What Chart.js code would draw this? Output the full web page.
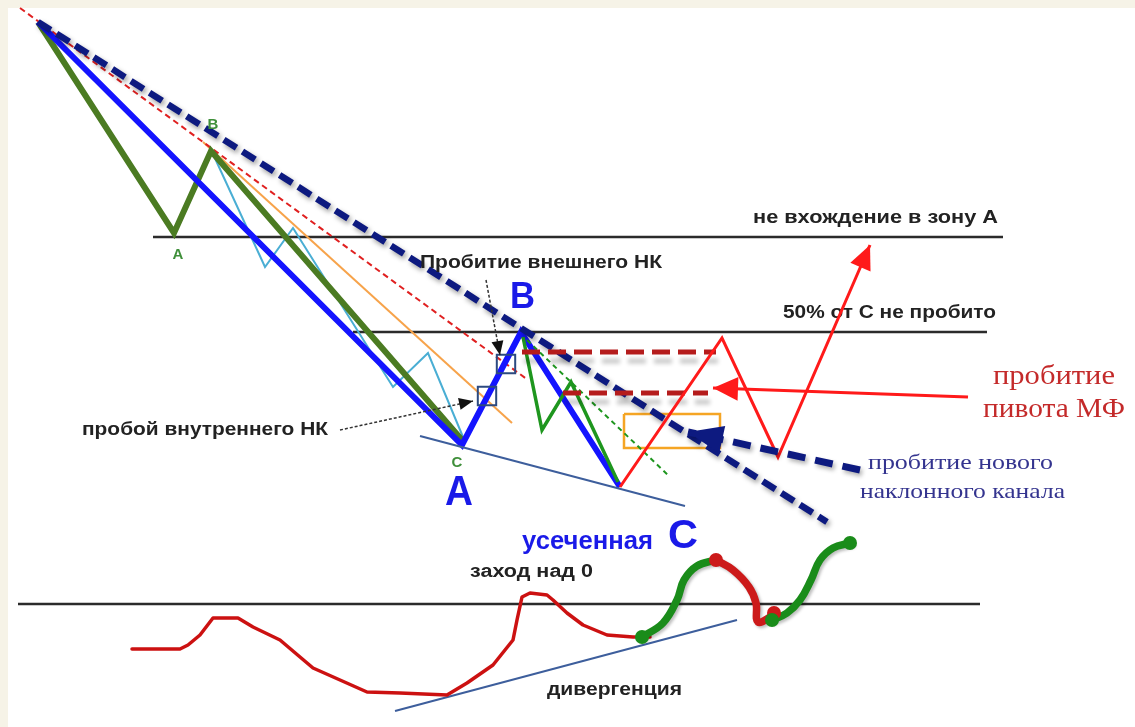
<!DOCTYPE html>
<html><head><meta charset="utf-8">
<script src="https://cdn.jsdelivr.net/npm/chart.js@4.4.0/dist/chart.umd.min.js"></script>
<style>html,body{margin:0;padding:0;background:#fff;overflow:hidden}canvas{display:block}</style>
</head><body><canvas id="c" width="1135" height="727"></canvas>
<script>
// ---------- data (x = time units, y = price units, y axis reversed) ----------
const levelZoneA   = [[153,237],[1003,237]];
const levelHalfC   = [[353,332],[987,332]];
const levelZero    = [[18,604],[980,604]];
const greenWave    = [[38,22],[174,233],[211,151],[462,440]];
const blueWave     = [[38,22],[462,445],[521,332],[620,487]];
const lightBlueWave= [[213,154],[265,267],[293,228],[393,387],[428,353],[463,437]];
const orangeLine   = [[203,142],[512,423]];
const redDashTrend = [[20,8],[528,380]];
const outerChannel = [[38,22],[827,522]];
const greenSubWave = [[523,337],[542,430],[571,382],[618,482]];
const greenDashed  = [[527,340],[670,477]];
const lowerChannel = [[420,436],[685,506]];
const pivotUpper   = [[522,352],[716,352]];
const pivotLower   = [[563,393],[708,393]];
const redProjection= [[620,487],[722,338],[778,457],[870,245]];
const pivotArrow   = [[968,397],[713,388]];
const newChanArrow = [[860,470],[688,432]];
const entryBox     = [[624,414],[720,414],[720,448],[624,448],[624,414]];
const breakSquares = [[487,396],[506,364]];
const innerArrow   = [[340,430],[473,401]];
const outerArrow   = [[486,280],[500,355]];
const oscRed1 = [[132,649],[180,649],[188,645],[200,635],[213,618],[238,618],[253,627],[280,640],[300,657],[313,668],[340,680],[367,692],[400,693],[447,695],[467,683],[493,665],[513,640],[517,620],[522,597],[530,593],[547,595],[553,600],[567,613],[583,625],[607,635],[633,637],[650,637]];
const oscGreen1 = [[642,637],[663,623],[677,600],[684,580],[697,566],[716,560]];
const oscRed2   = [[716,560],[733,570],[749,587],[756,603],[758,622],[772,616]];
const oscGreen2 = [[772,620],[787,613],[800,600],[811,580],[820,560],[833,548],[850,543]];
const oscGreenDots = [[642,637],[772,620],[850,543]];
const oscRedDots   = [[716,560],[774,613]];
const divergenceLine = [[395,711],[737,620]];

// ---------- text labels ----------
const labelTexts = ['не вхождение в зону А','50% от С не пробито','Пробитие внешнего НК','пробой внутреннего НК','заход над 0','дивергенция','усеченная','C','A','B','B','A','C','пробитие','пивота МФ','пробитие нового','наклонного канала'];
const labelAnchors = [[753,218],[783,313],[420,263],[82,430],[470,572],[547,690],[522,542],[668,537],[445,493],[510,298],[213,125],[178,255],[457,463],[993,377],[983,410],[868,463],[860,492]];

// ---------- styling ----------
const SANS = '"Liberation Sans", Arial, sans-serif';
const SERIF = '"Liberation Serif", "Times New Roman", serif';
const labelStyles = [
  {w:245,size:18,color:'#222',fam:SANS,wt:'bold'},
  {w:213,size:18,color:'#222',fam:SANS,wt:'bold',under:true},
  {w:242,size:18,color:'#222',fam:SANS,wt:'bold'},
  {w:246,size:18,color:'#222',fam:SANS,wt:'bold'},
  {w:123,size:18,color:'#222',fam:SANS,wt:'bold'},
  {w:135,size:18,color:'#222',fam:SANS,wt:'bold'},
  {w:131,size:25,color:'#1a1ae8',fam:SANS,wt:'bold'},
  {w:30,size:40,color:'#1a1ae8',fam:SANS,wt:'bold'},
  {w:28,size:42,color:'#1a1ae8',fam:SANS,wt:'bold'},
  {w:25,size:37,color:'#1a1ae8',fam:SANS,wt:'bold'},
  {w:null,size:15,color:'#3f8f3a',fam:SANS,wt:'bold',center:true},
  {w:null,size:15,color:'#3f8f3a',fam:SANS,wt:'bold',center:true},
  {w:null,size:15,color:'#3f8f3a',fam:SANS,wt:'bold',center:true},
  {w:122,size:27,color:'#c42a2a',fam:SERIF,wt:'normal'},
  {w:142,size:27,color:'#c42a2a',fam:SERIF,wt:'normal'},
  {w:185,size:21,color:'#34348f',fam:SERIF,wt:'normal'},
  {w:205,size:21,color:'#34348f',fam:SERIF,wt:'normal'}
];

function pts(a){return a.map(p=>({x:p[0],y:p[1]}));}
const layers = [];
function add(data,o){layers.push(Object.assign({data:pts(data),showLine:true,pointRadius:0,borderWidth:2,borderColor:'#000',tension:0,clip:false,fill:false,borderJoinStyle:'miter'},o));}

add(levelZoneA,{borderColor:'#2b2b2b',borderWidth:2.5});
add(levelHalfC,{borderColor:'#2b2b2b',borderWidth:2.5});
add(levelZero,{borderColor:'#2b2b2b',borderWidth:2.5});
add(entryBox,{borderColor:'#f5a524',borderWidth:2.5});
add(lightBlueWave,{borderColor:'#4aaed4',borderWidth:2});
add(orangeLine,{borderColor:'#f7a34a',borderWidth:2});
add(redDashTrend,{borderColor:'#e02020',borderWidth:2,borderDash:[6,4]});
add(greenWave,{borderColor:'#4b7b22',borderWidth:6});
add(blueWave,{borderColor:'#1414ff',borderWidth:6});
add(greenSubWave,{borderColor:'#1e961e',borderWidth:3.5});
add(greenDashed,{borderColor:'#1e961e',borderWidth:2,borderDash:[5,4]});
add(lowerChannel,{borderColor:'#3d5e9c',borderWidth:2});
add(outerChannel,{borderColor:'#0d1a80',borderWidth:6.5,borderDash:[15,7],shadow:{c:'rgba(0,0,0,0.38)',b:5,x:2,y:3}});
add(pivotUpper,{borderColor:'#b51c1c',borderWidth:5,borderDash:[18,8],shadow:{c:'rgba(0,0,0,0.22)',b:4,x:2,y:9}});
add(pivotLower,{borderColor:'#b51c1c',borderWidth:5,borderDash:[18,8],shadow:{c:'rgba(0,0,0,0.22)',b:4,x:2,y:9}});
add(redProjection,{borderColor:'#ff1a1a',borderWidth:3,arrow:{len:24,hw:11}});
add(pivotArrow,{borderColor:'#ff1a1a',borderWidth:3,arrow:{len:25,hw:12}});
add(newChanArrow,{borderColor:'#0d1a80',borderWidth:7,borderDash:[18,10],arrow:{len:35,hw:14},shadow:{c:'rgba(0,0,0,0.3)',b:4,x:2,y:3}});
layers.push({data:pts(breakSquares),showLine:false,pointStyle:'rect',pointRadius:13,pointBorderWidth:2,pointBorderColor:'#2c4a80',pointBackgroundColor:'rgba(0,0,0,0)',clip:false});
add(innerArrow,{borderColor:'#333',borderWidth:1.5,borderDash:[3,2],arrow:{len:14,hw:6,color:'#111'}});
add(outerArrow,{borderColor:'#333',borderWidth:1.5,borderDash:[3,2],arrow:{len:14,hw:6,color:'#111'}});
add(divergenceLine,{borderColor:'#3d5e9c',borderWidth:2});
add(oscRed1,{borderColor:'#cc1111',borderWidth:3.5,borderJoinStyle:'round',borderCapStyle:'round'});
add(oscGreen1,{borderColor:'#1a8c1a',borderWidth:7.5,tension:0.4,borderCapStyle:'round',shadow:{c:'rgba(0,0,0,0.25)',b:3,x:2,y:2}});
add(oscRed2,{borderColor:'#cc1a1a',borderWidth:7.5,tension:0.4,borderCapStyle:'round',shadow:{c:'rgba(0,0,0,0.25)',b:3,x:2,y:2}});
add(oscGreen2,{borderColor:'#1a8c1a',borderWidth:7.5,tension:0.4,borderCapStyle:'round',shadow:{c:'rgba(0,0,0,0.25)',b:3,x:2,y:2}});
layers.push({data:pts(oscRedDots),showLine:false,pointRadius:7,pointBorderWidth:0,pointBackgroundColor:'#cc1a1a',clip:false});
layers.push({data:pts(oscGreenDots),showLine:false,pointRadius:7,pointBorderWidth:0,pointBackgroundColor:'#1a8c1a',clip:false});

// later-listed layers on top
layers.forEach((d,i)=>{d.order=layers.length-i;});

function drawLabels(chart,top){
  const ctx=chart.ctx, xs=chart.scales.x, ys=chart.scales.y;
  labelTexts.forEach((t,i)=>{
    const s=labelStyles[i]; if(!!s.under===top) return;
    const px=xs.getPixelForValue(labelAnchors[i][0]), py=ys.getPixelForValue(labelAnchors[i][1]);
    ctx.save();
    ctx.font=`${s.wt} ${s.size}px ${s.fam}`;
    ctx.fillStyle=s.color; ctx.textBaseline='middle';
    if(s.center){ctx.textAlign='center';ctx.fillText(t,px,py);}
    else{const m=ctx.measureText(t).width;ctx.translate(px,py);ctx.scale(s.w/m,1);ctx.textAlign='left';ctx.fillText(t,0,0);}
    ctx.restore();
  });
}

const deco = {
  id:'deco',
  beforeDraw(chart){
    const ctx=chart.ctx,W=chart.width,H=chart.height;
    ctx.save();ctx.fillStyle='#f6f3e7';ctx.fillRect(0,0,W,H);
    ctx.fillStyle='#ffffff';ctx.fillRect(8,8,W-8,H-8);ctx.restore();
  },
  beforeDatasetsDraw(chart){drawLabels(chart,false);},
  beforeDatasetDraw(chart,args){
    const ds=chart.data.datasets[args.index];
    if(ds.shadow){const c=chart.ctx;c.save();c.shadowColor=ds.shadow.c;c.shadowBlur=ds.shadow.b;c.shadowOffsetX=ds.shadow.x;c.shadowOffsetY=ds.shadow.y;}
  },
  afterDatasetDraw(chart,args){
    const ds=chart.data.datasets[args.index];
    const ctx=chart.ctx;
    if(ds.shadow) ctx.restore();
    if(ds.arrow){
      const n=ds.data.length,a=ds.data[n-2],b=ds.data[n-1];
      const xs=chart.scales.x,ys=chart.scales.y;
      const x1=xs.getPixelForValue(a.x),y1=ys.getPixelForValue(a.y),x2=xs.getPixelForValue(b.x),y2=ys.getPixelForValue(b.y);
      const ang=Math.atan2(y2-y1,x2-x1),L=ds.arrow.len,h=ds.arrow.hw;
      ctx.save();ctx.translate(x2,y2);ctx.rotate(ang);
      ctx.fillStyle=ds.arrow.color||ds.borderColor;
      ctx.beginPath();ctx.moveTo(0,0);ctx.lineTo(-L,-h);ctx.lineTo(-L,h);ctx.closePath();ctx.fill();
      ctx.restore();
    }
  },
  afterDatasetsDraw(chart){drawLabels(chart,true);}
};

new Chart(document.getElementById('c'),{
  type:'scatter',
  data:{datasets:layers},
  options:{
    responsive:false,devicePixelRatio:1,animation:false,events:[],
    layout:{padding:0,autoPadding:false},
    plugins:{legend:{display:false},tooltip:{enabled:false}},
    scales:{
      x:{type:'linear',min:0,max:1135,display:false},
      y:{type:'linear',min:0,max:727,reverse:true,display:false}
    }
  },
  plugins:[deco]
});
</script></body></html>
